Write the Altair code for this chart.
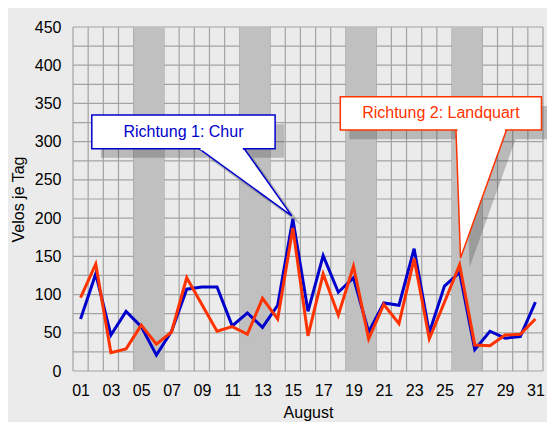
import altair as alt
import pandas as pd

# ---- data ----
days = list(range(1, 32))
chur = [68, 127, 47, 78, 58, 21, 52, 107, 110, 110, 59, 76, 57, 86, 199,
        78, 151, 103, 122, 51, 89, 86, 160, 50, 111, 129, 28, 52, 43, 45, 90]
landquart = [96, 140, 24, 29, 60, 35, 51, 122, 87, 52, 58, 48, 95, 68, 187,
             46, 127, 73, 137, 42, 87, 62, 147, 42, 90, 139, 34, 33, 47, 48, 68]
weekend_start = [5, 12, 19, 26]
weekend_end = [6, 13, 20, 27]
y_labels = list(range(0, 451, 50))
y_grid = list(range(0, 451, 25))
x_label_days = list(range(1, 32, 2))
series_names = ["Richtung 1: Chur", "Richtung 2: Landquart"]
series_colors = ["#0000cc", "#ff3300"]

# callout geometry (in data units: day / velos)
callouts = [
    dict(text=series_names[0], color=series_colors[0], x1=1.74, x2=13.83, ytop=334.9, ybot=290.8,
         bl=8.81, br=11.8, tx=14.93, ty=203),
    dict(text=series_names[1], color=series_colors[1], x1=18.13, x2=31.4, ytop=358.8, ybot=315.3,
         bl=25.76, br=29.09, tx=26.06, ty=147.8),
]
shadow_dx, shadow_dy = 0.6, -12

FONT = "Liberation Sans"
GRID = "#a3a3a3"

x_scale = alt.Scale(domain=[0.5, 31.5], nice=False, zero=False)
y_scale = alt.Scale(domain=[0, 450], nice=False)

x_axis = alt.Axis(values=x_label_days, title="August", grid=False, ticks=False, tickSize=0,
                  domain=False, labelExpr="datum.value < 10 ? '0' + datum.value : '' + datum.value",
                  labelFont=FONT, labelFontSize=16, labelColor="black", labelPadding=11,
                  labelOverlap=False, labelFlush=False,
                  titleFont=FONT, titleFontSize=16, titleFontWeight="normal", titleColor="black",
                  titlePadding=6)
y_axis = alt.Axis(values=y_labels, title="Velos je Tag", grid=False, ticks=False, tickSize=0,
                  domain=False, labelOverlap=False,
                  labelFont=FONT, labelFontSize=16, labelColor="black", labelPadding=12,
                  titleFont=FONT, titleFontSize=16, titleFontWeight="normal", titleColor="black",
                  titlePadding=8)


def X(f):
    return alt.X(f, type="quantitative", scale=x_scale, axis=x_axis)


def Y(f):
    return alt.Y(f, type="quantitative", scale=y_scale, axis=y_axis)


# vertical grid at day boundaries
bounds = pd.DataFrame({"b": [d - 0.5 for d in days] + [31.5], "lo": 0, "hi": 450})
vgrid = alt.Chart(bounds).mark_rule(color=GRID, strokeWidth=1.2).encode(
    x=X("b"), y=Y("lo"), y2="hi")
# horizontal grid every 25
hg = pd.DataFrame({"v": y_grid, "a": 0.5, "b": 31.5})
hgrid = alt.Chart(hg).mark_rule(color=GRID, strokeWidth=1.2).encode(
    y=Y("v"), x=X("a"), x2="b")

# weekend bands
wk = pd.DataFrame({"s": [s - 0.5 for s in weekend_start], "e": [e + 0.5 for e in weekend_end],
                   "lo": 0, "hi": 450})
bands = alt.Chart(wk).mark_rect(color="#c0c0c0").encode(x=X("s"), x2="e", y=Y("lo"), y2="hi")

df = pd.DataFrame({"day": days, "chur": chur, "landquart": landquart})
line_blue = alt.Chart(df).mark_line(color=series_colors[0], strokeWidth=3).encode(x=X("day"), y=Y("chur"))
line_red = alt.Chart(df).mark_line(color=series_colors[1], strokeWidth=3).encode(x=X("day"), y=Y("landquart"))

layers = [vgrid, hgrid, bands, line_blue, line_red]

for c in callouts:
    # shadow
    sbox = pd.DataFrame([{"x1": c["x1"] + shadow_dx, "x2": c["x2"] + shadow_dx,
                          "yt": c["ytop"] + shadow_dy, "yb": c["ybot"] + shadow_dy}])
    stri = pd.DataFrame([{"y": c["ybot"] + shadow_dy, "x": c["bl"] + shadow_dx, "x2": c["br"] + shadow_dx},
                         {"y": c["ty"] + shadow_dy, "x": c["tx"] + shadow_dx, "x2": c["tx"] + shadow_dx}])
    layers.append(alt.Chart(sbox).mark_rect(color="#444444", opacity=0.3).encode(
        x=X("x1"), x2="x2", y=Y("yt"), y2="yb"))
    layers.append(alt.Chart(stri).mark_area(orient="horizontal", color="#444444", opacity=0.3).encode(
        y=Y("y"), x=X("x"), x2="x2"))
    # pointer
    tri = pd.DataFrame([{"y": c["ybot"], "x": c["bl"], "x2": c["br"]},
                        {"y": c["ty"], "x": c["tx"], "x2": c["tx"]}])
    layers.append(alt.Chart(tri).mark_area(orient="horizontal", fill="white", stroke=c["color"],
                                           strokeWidth=1.5).encode(y=Y("y"), x=X("x"), x2="x2"))
    # box
    box = pd.DataFrame([{"x1": c["x1"], "x2": c["x2"], "yt": c["ytop"], "yb": c["ybot"]}])
    layers.append(alt.Chart(box).mark_rect(fill="white", stroke=c["color"], strokeWidth=1.5).encode(
        x=X("x1"), x2="x2", y=Y("yt"), y2="yb"))
    # open the joint between box and pointer
    cover = pd.DataFrame([{"a": c["bl"] + 0.1, "b": c["br"] - 0.1, "y": c["ybot"]}])
    layers.append(alt.Chart(cover).mark_rule(color="white", strokeWidth=3).encode(
        x=X("a"), x2="b", y=Y("y")))
    # label
    lab = pd.DataFrame([{"cx": (c["x1"] + c["x2"]) / 2, "cy": (c["ytop"] + c["ybot"]) / 2, "t": c["text"]}])
    layers.append(alt.Chart(lab).mark_text(font=FONT, fontSize=16, color=c["color"], align="center",
                                           baseline="middle").encode(x=X("cx"), y=Y("cy"), text="t:N"))

chart = alt.layer(*layers).properties(
    width=470, height=344,
    autosize=alt.AutoSizeParams(type="none"),
    padding={"left": 65, "top": 19, "right": 4, "bottom": 51},
    background="#ebebeb",
).configure_view(stroke=None, fill="#ebebeb")

chart.save("out.html", embed_options={"renderer": "svg", "actions": False})
